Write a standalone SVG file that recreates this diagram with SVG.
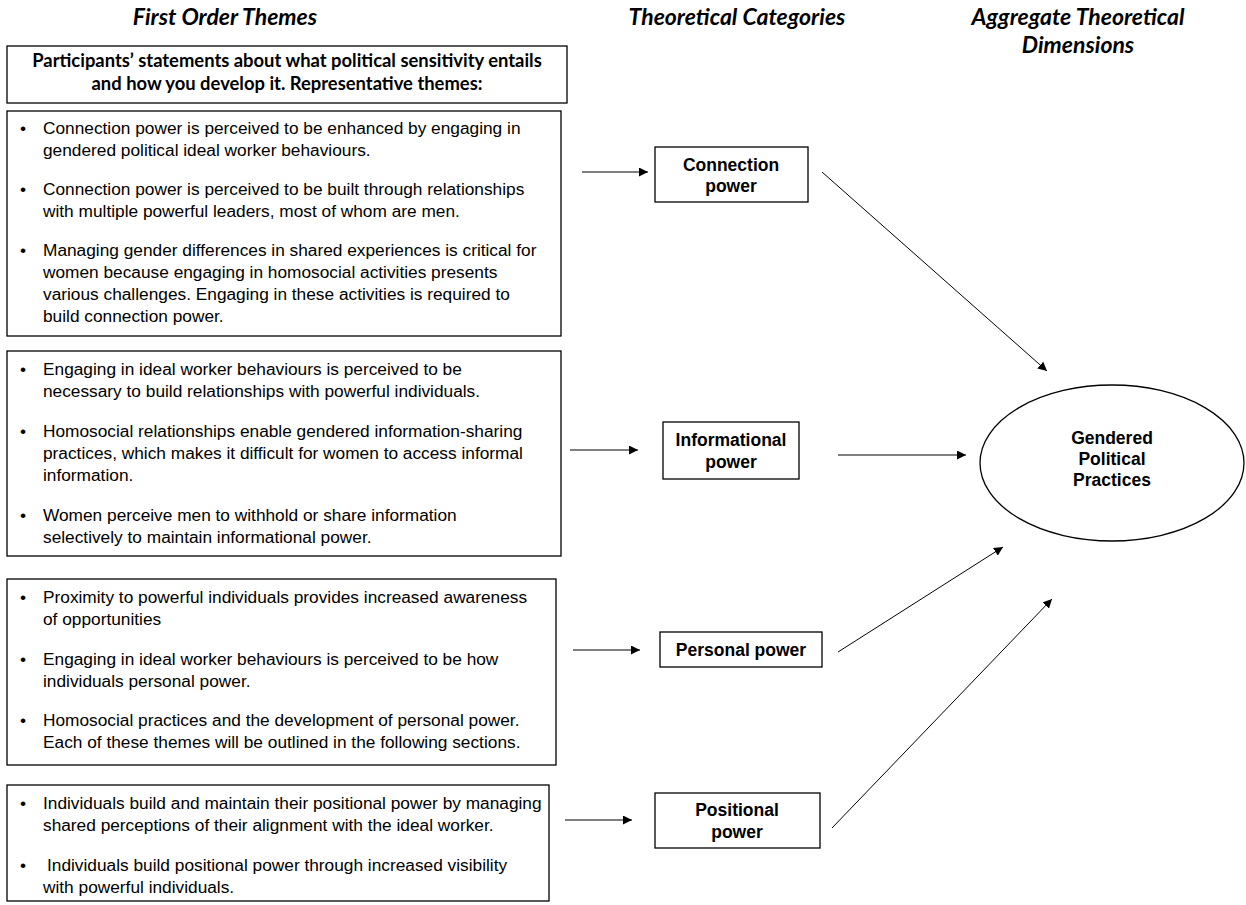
<svg xmlns="http://www.w3.org/2000/svg" width="1246" height="905" viewBox="0 0 1246 905">
<style>
.h{font-family:Lato,"Liberation Sans",sans-serif;font-weight:bold;font-style:italic;font-size:23px;fill:#000}
.hb{font-family:Lato,"Liberation Sans",sans-serif;font-weight:bold;font-size:18.4px;fill:#000}
.t{font-family:"Liberation Sans",Arial,sans-serif;font-size:17.3px;fill:#000}
.l{font-family:"Liberation Sans",Arial,sans-serif;font-weight:bold;font-size:17.5px;fill:#000}
.box{fill:#fff;stroke:#000;stroke-width:1.3}
.c{stroke:#000;stroke-width:1;fill:none}
</style>
<defs>
<marker id="ah" viewBox="0 0 10 10" refX="10" refY="5" markerWidth="9" markerHeight="9" markerUnits="userSpaceOnUse" orient="auto">
<path d="M0,0 L10,5 L0,10 z" fill="#000"/>
</marker>
</defs>
<rect width="1246" height="905" fill="#fff"/>
<g id="headings">
<text class="h" x="225" y="25" text-anchor="middle">First Order Themes</text>
<text class="h" x="737" y="25" text-anchor="middle">Theoretical Categories</text>
<text class="h" x="1078" y="25" text-anchor="middle">Aggregate Theoretical</text>
<text class="h" x="1078" y="53" text-anchor="middle">Dimensions</text>
</g>
<g id="header-box">
<rect class="box" x="7" y="46" width="560" height="57"/>
<text class="hb" x="287" y="67" text-anchor="middle">Participants’ statements about what political sensitivity entails</text>
<text class="hb" x="287" y="90" text-anchor="middle">and how you develop it. Representative themes:</text>
</g>
<g id="themes-connection">
<rect class="box" x="7" y="111" width="554" height="225"/>
<g class="t">
<text x="20" y="134">•</text>
<text x="43" y="134">Connection power is perceived to be enhanced by engaging in</text>
<text x="43" y="156">gendered political ideal worker behaviours.</text>
<text x="20" y="195">•</text>
<text x="43" y="195">Connection power is perceived to be built through relationships</text>
<text x="43" y="217">with multiple powerful leaders, most of whom are men.</text>
<text x="20" y="256">•</text>
<text x="43" y="256">Managing gender differences in shared experiences is critical for</text>
<text x="43" y="278">women because engaging in homosocial activities presents</text>
<text x="43" y="300">various challenges. Engaging in these activities is required to</text>
<text x="43" y="322">build connection power.</text>
</g>
</g>
<g id="themes-informational">
<rect class="box" x="7" y="351" width="554" height="205"/>
<g class="t">
<text x="20" y="375">•</text>
<text x="43" y="375">Engaging in ideal worker behaviours is perceived to be</text>
<text x="43" y="397">necessary to build relationships with powerful individuals.</text>
<text x="20" y="437">•</text>
<text x="43" y="437">Homosocial relationships enable gendered information-sharing</text>
<text x="43" y="459">practices, which makes it difficult for women to access informal</text>
<text x="43" y="481">information.</text>
<text x="20" y="521">•</text>
<text x="43" y="521">Women perceive men to withhold or share information</text>
<text x="43" y="543">selectively to maintain informational power.</text>
</g>
</g>
<g id="themes-personal">
<rect class="box" x="7" y="579" width="549" height="186"/>
<g class="t">
<text x="20" y="603">•</text>
<text x="43" y="603">Proximity to powerful individuals provides increased awareness</text>
<text x="43" y="625">of opportunities</text>
<text x="20" y="665">•</text>
<text x="43" y="665">Engaging in ideal worker behaviours is perceived to be how</text>
<text x="43" y="687">individuals personal power.</text>
<text x="20" y="726">•</text>
<text x="43" y="726">Homosocial practices and the development of personal power.</text>
<text x="43" y="748">Each of these themes will be outlined in the following sections.</text>
</g>
</g>
<g id="themes-positional">
<rect class="box" x="7" y="785" width="542" height="116"/>
<g class="t">
<text x="20" y="809">•</text>
<text x="43" y="809">Individuals build and maintain their positional power by managing</text>
<text x="43" y="831">shared perceptions of their alignment with the ideal worker.</text>
<text x="20" y="871">•</text>
<text x="47" y="871">Individuals build positional power through increased visibility</text>
<text x="43" y="893">with powerful individuals.</text>
</g>
</g>
<g id="connection-power">
<rect class="box" x="655" y="147" width="153" height="55"/>
<text class="l" x="731" y="171" text-anchor="middle">Connection</text>
<text class="l" x="731" y="192" text-anchor="middle">power</text>
</g>
<g id="informational-power">
<rect class="box" x="663" y="422" width="136" height="57"/>
<text class="l" x="731" y="446" text-anchor="middle">Informational</text>
<text class="l" x="731" y="468" text-anchor="middle">power</text>
</g>
<g id="personal-power">
<rect class="box" x="660" y="632" width="162" height="35"/>
<text class="l" x="741" y="656" text-anchor="middle">Personal power</text>
</g>
<g id="positional-power">
<rect class="box" x="655" y="793" width="165" height="55"/>
<text class="l" x="737" y="816" text-anchor="middle">Positional</text>
<text class="l" x="737" y="838" text-anchor="middle">power</text>
</g>
<g id="gendered-political-practices">
<ellipse class="box" cx="1112" cy="463" rx="132" ry="78"/>
<text class="l" x="1112" y="444" text-anchor="middle">Gendered</text>
<text class="l" x="1112" y="465" text-anchor="middle">Political</text>
<text class="l" x="1112" y="486" text-anchor="middle">Practices</text>
</g>
<g id="connectors">
<line class="c" x1="582" y1="172" x2="648" y2="172" marker-end="url(#ah)"/>
<line class="c" x1="570" y1="450" x2="638" y2="450" marker-end="url(#ah)"/>
<line class="c" x1="573" y1="650" x2="640" y2="650" marker-end="url(#ah)"/>
<line class="c" x1="565" y1="820" x2="632" y2="820" marker-end="url(#ah)"/>
<line class="c" x1="838" y1="455" x2="966" y2="455" marker-end="url(#ah)"/>
<line class="c" x1="822" y1="172" x2="1047" y2="371" marker-end="url(#ah)"/>
<line class="c" x1="838" y1="652" x2="1003" y2="547" marker-end="url(#ah)"/>
<line class="c" x1="832" y1="828" x2="1052" y2="599" marker-end="url(#ah)"/>
</g>
</svg>
